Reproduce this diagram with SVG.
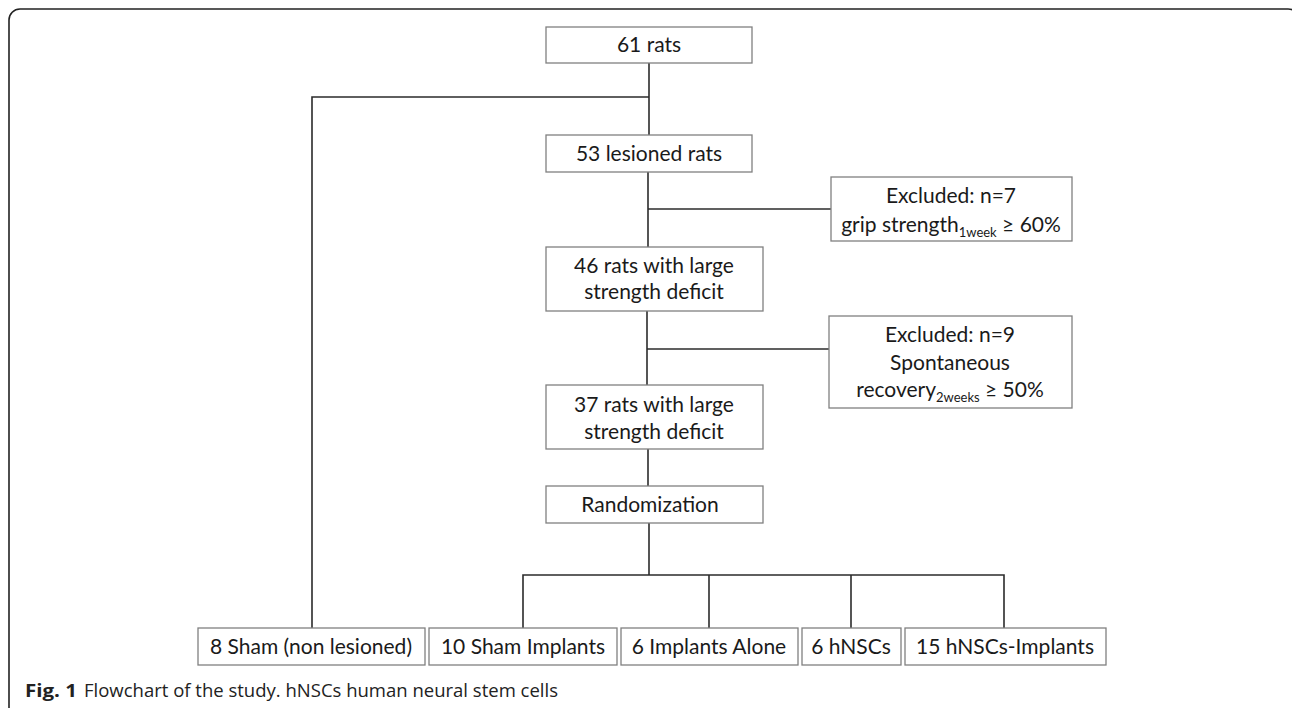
<svg xmlns="http://www.w3.org/2000/svg" width="1292" height="708" viewBox="0 0 1292 708">
<style>
.box{fill:#fff;stroke:#808080;stroke-width:1.3}
.t{font-family:Lato,"Open Sans","Liberation Sans",sans-serif;font-size:21px;fill:#1a1a1a;text-anchor:middle}
.sub{font-size:13px}
.c{fill:none;stroke:#2b2b2b;stroke-width:1.6}
.cap{font-family:"Open Sans","Liberation Sans",sans-serif;font-size:18px;fill:#222}
</style>
<rect width="1292" height="708" fill="#fff"/>
<rect x="9" y="9" width="1290" height="730" rx="11" ry="11" fill="none" stroke="#222" stroke-width="1.6"/>
<g id="connectors">
<path class="c" d="M649 63V135"/>
<path class="c" d="M649 97H312V628"/>
<path class="c" d="M648 172V247"/>
<path class="c" d="M648 209H831"/>
<path class="c" d="M647 311V385"/>
<path class="c" d="M647 349H829"/>
<path class="c" d="M648 449V486"/>
<path class="c" d="M649 523V575"/>
<path class="c" d="M523 628V575H1004V628"/>
<path class="c" d="M709 575V628"/>
<path class="c" d="M851 575V628"/>
</g>
<g id="n61">
<rect class="box" x="546" y="27" width="206" height="36"/>
<text class="t" x="649" y="52">61 rats</text>
</g>
<g id="n53">
<rect class="box" x="546" y="135" width="206" height="37"/>
<text class="t" x="649" y="161">53 lesioned rats</text>
</g>
<g id="ex1">
<rect class="box" x="831" y="177" width="241" height="64"/>
<text class="t" x="951" y="203">Excluded: n=7</text>
<text class="t" x="951" y="232">grip strength<tspan class="sub" dy="5">1week</tspan><tspan dy="-5"> ≥ 60%</tspan></text>
</g>
<g id="n46">
<rect class="box" x="546" y="247" width="217" height="64"/>
<text class="t" x="654" y="273">46 rats with large</text>
<text class="t" x="654" y="299">strength deficit</text>
</g>
<g id="ex2">
<rect class="box" x="829" y="316" width="243" height="92"/>
<text class="t" x="950" y="342">Excluded: n=9</text>
<text class="t" x="950" y="370">Spontaneous</text>
<text class="t" x="950" y="397">recovery<tspan class="sub" dy="5">2weeks</tspan><tspan dy="-5"> ≥ 50%</tspan></text>
</g>
<g id="n37">
<rect class="box" x="546" y="385" width="217" height="64"/>
<text class="t" x="654" y="412">37 rats with large</text>
<text class="t" x="654" y="439">strength deficit</text>
</g>
<g id="rand">
<rect class="box" x="546" y="486" width="217" height="37"/>
<text class="t" x="650" y="512">Randomization</text>
</g>
<g id="g1">
<rect class="box" x="198" y="628" width="227" height="37"/>
<text class="t" x="311" y="654">8 Sham (non lesioned)</text>
</g>
<g id="g2">
<rect class="box" x="429" y="628" width="188" height="37"/>
<text class="t" x="523" y="654">10 Sham Implants</text>
</g>
<g id="g3">
<rect class="box" x="621" y="628" width="177" height="37"/>
<text class="t" x="709" y="654">6 Implants Alone</text>
</g>
<g id="g4">
<rect class="box" x="802" y="628" width="99" height="37"/>
<text class="t" x="851" y="654">6 hNSCs</text>
</g>
<g id="g5">
<rect class="box" x="905" y="628" width="201" height="37"/>
<text class="t" x="1005" y="654">15 hNSCs-Implants</text>
</g>
<g id="caption">
<text class="cap" x="25" y="697" font-weight="bold" textLength="52" lengthAdjust="spacingAndGlyphs">Fig. 1</text>
<text class="cap" x="84" y="697" textLength="474" lengthAdjust="spacingAndGlyphs">Flowchart of the study. hNSCs human neural stem cells</text>
</g>
</svg>
